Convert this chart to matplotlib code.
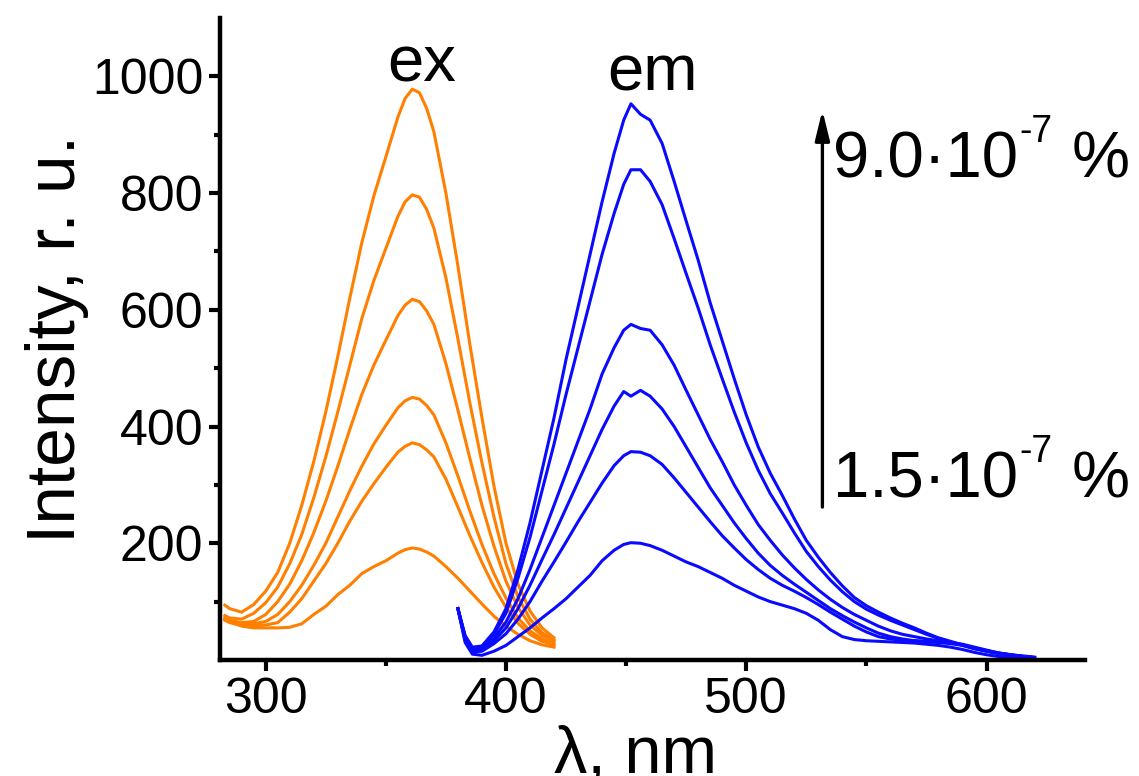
import matplotlib
matplotlib.use("Agg")
import matplotlib.pyplot as plt
import numpy as np

# excitation spectra, wavelength in nm
ex_nm = [283, 285, 290, 295, 300, 305, 310, 315, 320, 325, 330, 335, 340, 345,
         350, 355, 358, 361, 364, 367, 370, 375, 380, 385, 390, 395, 400, 405,
         410, 415, 420]
ex_curves = [
    [94, 88, 82, 95, 118, 150, 200, 265, 340, 425, 520, 620, 715, 795, 862, 930,
     962, 978, 972, 945, 905, 800, 675, 540, 415, 298, 200, 130, 84, 55, 38],
    [76, 72, 70, 80, 98, 125, 165, 215, 278, 348, 425, 505, 585, 650, 705, 760,
     785, 797, 793, 772, 740, 655, 550, 440, 338, 245, 165, 108, 70, 47, 34],
    [72, 68, 64, 66, 78, 100, 130, 170, 218, 272, 332, 395, 455, 505, 548, 590,
     608, 618, 614, 598, 575, 508, 428, 345, 265, 195, 135, 90, 60, 42, 32],
    [70, 66, 62, 62, 66, 78, 100, 128, 162, 200, 245, 290, 332, 370, 402, 432,
     444, 450, 447, 436, 420, 372, 315, 255, 198, 148, 106, 72, 50, 36, 28],
    [68, 64, 60, 59, 60, 64, 82, 105, 135, 165, 200, 238, 272, 302, 330, 356,
     366, 372, 369, 360, 348, 310, 262, 213, 167, 125, 90, 63, 44, 32, 26],
    [70, 65, 58, 55, 55, 55, 56, 62, 78, 92, 112, 128, 148, 160, 170, 183,
     189, 192, 190, 185, 178, 160, 140, 118, 96, 75, 58, 44, 33, 26, 22],
]

# emission spectra
em_nm = [380, 383, 386, 390, 395, 400, 405, 410, 415, 420, 425, 430, 435, 440, 445,
         449, 452, 456, 460, 465, 470, 475, 480, 485, 490, 495, 500, 505, 510, 515,
         520, 525, 530, 535, 540, 545, 550, 555, 560, 565, 570, 575, 580, 585, 590,
         595, 600, 605, 610, 615, 620]
em_curves = [
    [88, 42, 22, 24, 48, 88, 155, 235, 325, 415, 515, 605, 695, 785, 868,
     925, 953, 935, 925, 885, 820, 752, 685, 612, 547, 482, 420, 365, 320, 282,
     242, 205, 176, 150, 127, 107, 93, 82, 72, 63, 55, 46, 38, 32, 26,
     20, 16, 12, 9, 7, 5],
    [88, 40, 20, 22, 44, 80, 140, 210, 290, 370, 455, 535, 615, 695, 765,
     815, 840, 840, 820, 780, 722, 662, 603, 540, 482, 425, 372, 325, 285, 252,
     218, 186, 160, 137, 117, 100, 87, 77, 68, 60, 52, 44, 37, 31, 25,
     19, 15, 11, 8, 6, 4],
    [88, 38, 18, 20, 38, 65, 105, 155, 210, 265, 320, 375, 430, 490, 535,
     565, 575, 568, 565, 540, 505, 462, 420, 378, 340, 300, 265, 232, 205, 180,
     158, 138, 120, 104, 90, 78, 68, 58, 50, 44, 40, 36, 33, 30, 26,
     21, 16, 12, 9, 6, 4],
    [88, 36, 16, 18, 33, 55, 88, 128, 172, 215, 260, 305, 350, 395, 435,
     460, 452, 462, 452, 430, 400, 365, 330, 295, 265, 235, 208, 183, 162, 145,
     130, 116, 102, 88, 76, 65, 55, 46, 40, 36, 33, 31, 30, 28, 25,
     20, 15, 11, 8, 6, 4],
    [88, 34, 14, 15, 28, 45, 70, 100, 135, 168, 202, 237, 270, 303, 333,
     350, 357, 356, 350, 335, 312, 287, 262, 237, 213, 192, 172, 155, 140, 128,
     118, 107, 95, 82, 70, 58, 48, 40, 36, 34, 33, 32, 31, 30, 27,
     22, 17, 12, 9, 6, 4],
    [88, 30, 10, 8, 15, 25, 40, 55, 72, 88, 105, 125, 145, 170, 188,
     198, 201, 200, 196, 188, 178, 168, 160, 150, 140, 128, 118, 108, 100, 94,
     88, 80, 68, 52, 40, 35, 33, 32, 31, 30, 29, 27, 25, 22, 18,
     13, 9, 6, 4, 3, 2],
]

x_ticks = [300, 400, 500, 600]
y_ticks = [200, 400, 600, 800, 1000]
conc_high = "9.0\u00b710"
conc_low = "1.5\u00b710"

plt.rcParams['font.family'] = ['Liberation Sans', 'DejaVu Sans']

fig = plt.figure(figsize=(11.39, 7.76), dpi=100)
ax = fig.add_axes([0.1932, 0.1495, 0.7594, 0.8273])

for y in ex_curves:
    ax.plot(ex_nm, y, color='#ff7f00', lw=2.2, solid_joinstyle='round')
for y in em_curves:
    ax.plot(em_nm, y, color='#0a0aff', lw=2.2, solid_joinstyle='round')

ax.set_xlim(281, 641)
ax.set_ylim(0, 1100)
ax.set_xticks(x_ticks)
ax.set_xticks([350, 450, 550], minor=True)
ax.set_yticks(y_ticks)
ax.set_yticks([100, 300, 500, 700, 900], minor=True)

for side in ['top', 'right']:
    ax.spines[side].set_visible(False)
for side in ['left', 'bottom']:
    ax.spines[side].set_linewidth(3.2)
ax.tick_params(which='major', length=8, width=3, labelsize=36, pad=4)
ax.tick_params(which='minor', length=4, width=3)

ax.set_xlabel('\u03bb, nm', fontsize=48)
ax.set_ylabel('Intensity, r. u.', fontsize=50)
ax.xaxis.set_label_coords(0.48, -0.1)
ax.yaxis.set_label_coords(-0.152, 0.5)

ax.text(365, 992, 'ex', fontsize=47, ha='center', va='baseline')
ax.text(461, 975, 'em', fontsize=47, ha='center', va='baseline')

# concentration arrow with its end labels
ax.annotate('', xy=(531.7, 942), xytext=(531.7, 262),
            arrowprops=dict(arrowstyle='-|>,head_width=0.22,head_length=0.9',
                            lw=2.4, color='black', mutation_scale=20,
                            shrinkA=0, shrinkB=0))
for label, yb in [(conc_high, 827), (conc_low, 278)]:
    t1 = ax.text(536, yb, label, fontsize=47, ha='left', va='baseline')
    t2 = ax.annotate('-7', xy=(1, 1), xycoords=t1, xytext=(1, 12),
                     textcoords='offset points', fontsize=27, ha='left', va='top')
    ax.annotate('%', xy=(1, 0), xycoords=(t2, t1), xytext=(14, 0),
                textcoords='offset points', fontsize=47, ha='left', va='bottom')

fig.savefig('out.png', dpi=100)
